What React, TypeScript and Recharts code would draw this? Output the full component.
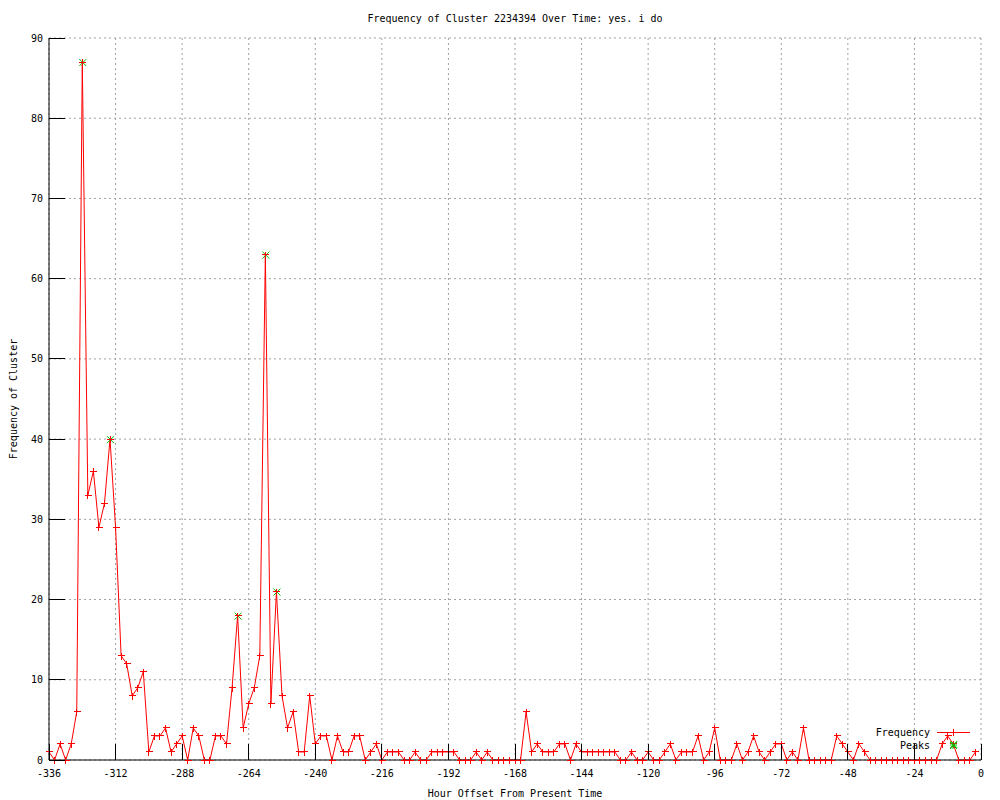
import { CartesianGrid, Line, LineChart, XAxis, YAxis } from "recharts";

// counts every 2 hours, from -336 up to -2
const frequency = [
  1, 0, 2, 0, 2, 6, 87, 33, 36, 29, 32, 40,
  29, 13, 12, 8, 9, 11, 1, 3, 3, 4, 1, 2,
  3, 0, 4, 3, 0, 0, 3, 3, 2, 9, 18, 4,
  7, 9, 13, 63, 7, 21, 8, 4, 6, 1, 1, 8,
  2, 3, 3, 0, 3, 1, 1, 3, 3, 0, 1, 2,
  0, 1, 1, 1, 0, 0, 1, 0, 0, 1, 1, 1,
  1, 1, 0, 0, 0, 1, 0, 1, 0, 0, 0, 0,
  0, 0, 6, 1, 2, 1, 1, 1, 2, 2, 0, 2,
  1, 1, 1, 1, 1, 1, 1, 0, 0, 1, 0, 0,
  1, 0, 0, 1, 2, 0, 1, 1, 1, 3, 0, 1,
  4, 0, 0, 0, 2, 0, 1, 3, 1, 0, 1, 2,
  2, 0, 1, 0, 4, 0, 0, 0, 0, 0, 3, 2,
  1, 0, 2, 1, 0, 0, 0, 0, 0, 0, 0, 0,
  0, 0, 0, 0, 0, 2, 3, 2, 0, 0, 0, 1,
];
const firstHour = -336;
const hourStep = 2;

const peakHours = [-324, -314, -268, -258, -254, -10];
const peakValues = [87, 40, 18, 63, 21, 2];

const xTicks = [-336, -312, -288, -264, -240, -216, -192, -168, -144, -120, -96, -72, -48, -24, 0];
const yTicks = [0, 10, 20, 30, 40, 50, 60, 70, 80, 90];

const data = frequency.map((value, i) => {
  const hour = firstHour + i * hourStep;
  const p = peakHours.indexOf(hour);
  return { hour, frequency: value, peak: p >= 0 ? peakValues[p] : null };
});

const FONT = "'DejaVu Sans Mono', monospace";
const TICK = 16;
const GREEN = "#00c000";

function BottomTick(props: any) {
  const { x, y, payload } = props;
  return (
    <g>
      <line x1={x} y1={y} x2={x} y2={y - TICK} stroke="#000" shapeRendering="crispEdges" />
      <text x={x} y={y + 17} textAnchor="middle" fontFamily={FONT} fontSize={10} fill="#000">
        {payload.value}
      </text>
    </g>
  );
}

function TopTick(props: any) {
  const { x, y } = props;
  return <line x1={x} y1={y} x2={x} y2={y + TICK} stroke="#000" shapeRendering="crispEdges" />;
}

function LeftTick(props: any) {
  const { x, y, payload } = props;
  return (
    <g>
      <line x1={x} y1={y} x2={x + TICK} y2={y} stroke="#000" shapeRendering="crispEdges" />
      <text x={x - 6} y={y + 3.5} textAnchor="end" fontFamily={FONT} fontSize={10} fill="#000">
        {payload.value}
      </text>
    </g>
  );
}

function RightTick(props: any) {
  const { x, y } = props;
  return <line x1={x} y1={y} x2={x - TICK} y2={y} stroke="#000" shapeRendering="crispEdges" />;
}

const plusPath = (cx: number, cy: number) => `M${cx - 3},${cy}h7M${cx},${cy - 3}v7`;
const crossPath = (cx: number, cy: number) =>
  `M${cx - 3},${cy - 3}L${cx + 4},${cy + 4}M${cx - 3},${cy + 4}L${cx + 4},${cy - 3}`;

function plusDot(props: any) {
  const { cx, cy, index } = props;
  if (cx == null || cy == null) return <g key={`f${index}`} />;
  return (
    <path key={`f${index}`} d={plusPath(cx, cy)} stroke="#ff0000" fill="none" shapeRendering="crispEdges" />
  );
}

function starDot(props: any) {
  const { cx, cy, index, value } = props;
  if (cx == null || cy == null || value == null) return <g key={`s${index}`} />;
  return (
    <g key={`s${index}`}>
      <path d={crossPath(cx, cy)} stroke={GREEN} fill="none" />
      <path d={plusPath(cx, cy)} stroke="#ff0000" fill="none" shapeRendering="crispEdges" />
    </g>
  );
}

export default function App() {
  return (
    <div style={{ position: "absolute", left: 0, top: 0, width: 1000, height: 800, background: "#fff" }}>
      <LineChart width={1000} height={800} data={data} margin={{ top: 38, right: 19, bottom: 10, left: 9 }}>
        <CartesianGrid stroke="#a0a0a0" strokeDasharray="2 3" />
        <XAxis
          dataKey="hour"
          type="number"
          domain={[-336, 0]}
          ticks={xTicks}
          height={30}
          tickSize={0}
          tickMargin={0}
          axisLine={{ stroke: "#000" }}
          tick={(p: any) => <BottomTick {...p} />}
          interval={0}
        />
        <XAxis
          xAxisId="top"
          orientation="top"
          dataKey="hour"
          type="number"
          domain={[-336, 0]}
          ticks={xTicks}
          height={0}
          tickSize={0}
          tickMargin={0}
          axisLine={{ stroke: "#000" }}
          tick={(p: any) => <TopTick {...p} />}
          interval={0}
        />
        <YAxis
          type="number"
          domain={[0, 90]}
          ticks={yTicks}
          width={40}
          tickSize={0}
          tickMargin={0}
          axisLine={{ stroke: "#000" }}
          tick={(p: any) => <LeftTick {...p} />}
          interval={0}
        />
        <YAxis
          yAxisId="right"
          orientation="right"
          type="number"
          domain={[0, 90]}
          ticks={yTicks}
          width={0}
          tickSize={0}
          tickMargin={0}
          axisLine={{ stroke: "#000" }}
          tick={(p: any) => <RightTick {...p} />}
          interval={0}
        />
        <Line
          type="linear"
          dataKey="frequency"
          stroke="#ff0000"
          strokeWidth={1}
          dot={plusDot}
          activeDot={false}
          isAnimationActive={false}
        />
        <Line
          xAxisId="top"
          yAxisId="right"
          dataKey="peak"
          stroke="none"
          dot={starDot}
          activeDot={false}
          isAnimationActive={false}
        />
      </LineChart>
      <svg
        width={1000}
        height={800}
        style={{ position: "absolute", left: 0, top: 0, pointerEvents: "none" }}
        fontFamily={FONT}
        fontSize={10}
      >
        <text x={515} y={21.5} textAnchor="middle" fill="#000">
          Frequency of Cluster 2234394 Over Time: yes. i do
        </text>
        <text x={515} y={796.5} textAnchor="middle" fill="#000">
          Hour Offset From Present Time
        </text>
        <text transform="translate(16.5,399) rotate(-90)" textAnchor="middle" fill="#000">
          Frequency of Cluster
        </text>
        <text x={930} y={736} textAnchor="end" fill="#000">
          Frequency
        </text>
        <line x1={937} y1={732.5} x2={970} y2={732.5} stroke="#ff0000" />
        <path d={plusPath(953, 732)} stroke="#ff0000" fill="none" shapeRendering="crispEdges" />
        <text x={930} y={749} textAnchor="end" fill="#000">
          Peaks
        </text>
        <path d={plusPath(953, 745) + crossPath(953, 745)} stroke={GREEN} fill="none" />
      </svg>
    </div>
  );
}
